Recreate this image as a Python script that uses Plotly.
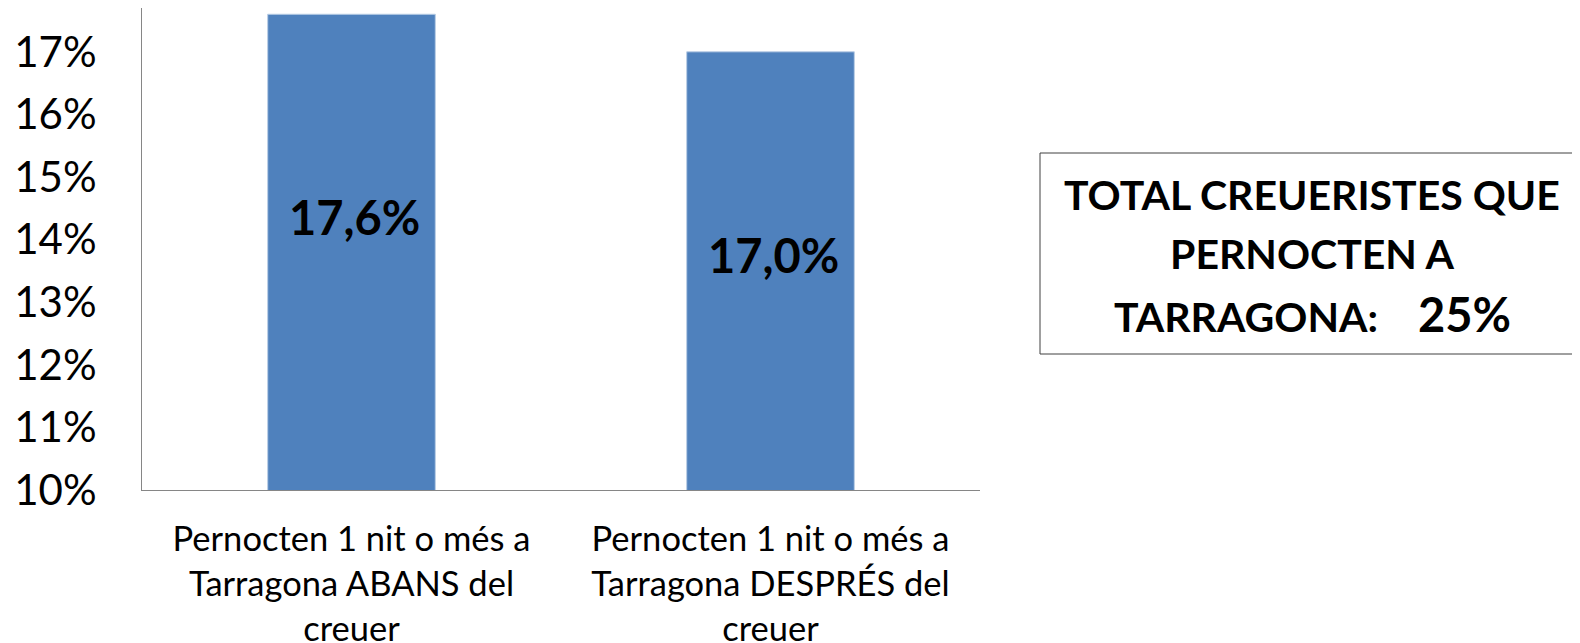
import plotly.graph_objects as go

categories = ["Pernocten 1 nit o més a<br>Tarragona ABANS del<br>creuer",
              "Pernocten 1 nit o més a<br>Tarragona DESPRÉS del<br>creuer"]
values = [17.6, 17.0]
value_labels = ["17,6%", "17,0%"]
total_label = "TOTAL CREUERISTES QUE"
total_label2 = "PERNOCTEN A"
total_label3 = "TARRAGONA:"
total_value = "25%"

FONT = "Lato"
O = 8  # default page body margin offset
W, H = 1580 - O, 643 - O
# plot area in page pixels: x 142..980, y 8..490
L, T = 142 - O, 8 - O
R = W - (980 - O)
B = H - (490 - O)
pw, ph = W - L - R, H - T - B


def px(x):
    return (x - O - L) / pw


def py(y):
    return (H - B - (y - O)) / ph


fig = go.Figure()
fig.add_trace(go.Bar(
    x=categories, y=values,
    marker=dict(color="#4F81BD", line=dict(color="#B9CDE5", width=1)),
    width=0.4, hoverinfo="skip",
))

for c, v, t in zip(categories, values, value_labels):
    fig.add_annotation(x=c, y=v - 3.24, xref="x", yref="y", text=t, showarrow=False,
                       xshift=3,
                       font=dict(family=FONT, size=47, color="black", weight="bold"))

fig.add_shape(type="rect", xref="paper", yref="paper",
              x0=px(1040), x1=px(1579), y0=py(354), y1=py(153),
              line=dict(color="#404040", width=1), fillcolor="white")
for txt, yy in [(total_label, 195), (total_label2, 253),
                (total_label3 + "&nbsp;&nbsp;&nbsp;&nbsp;<span style='font-size:47px'>" + total_value + "</span>", 314)]:
    fig.add_annotation(x=px(1312), y=py(yy), xref="paper", yref="paper", text=txt,
                       showarrow=False, xanchor="center", yanchor="middle",
                       font=dict(family=FONT, size=41, color="black", weight="bold"))

fig.update_layout(
    template="none",
    width=W, height=H, margin=dict(l=L, r=R, t=T, b=B, autoexpand=False),
    paper_bgcolor="white", plot_bgcolor="white", showlegend=False,
    font=dict(family=FONT, color="black"),
)
fig.update_yaxes(range=[10, 17.70], tick0=10, dtick=1, ticksuffix="%", automargin=False,
                 showgrid=False, zeroline=False, showline=True, linecolor="#868686",
                 linewidth=1, ticks="", tickfont=dict(family=FONT, size=42, color="black"),
                 ticklabelstandoff=36)
fig.update_xaxes(showgrid=False, showline=True, linecolor="#868686", linewidth=1, automargin=False,
                 ticks="", tickfont=dict(family=FONT, size=34.5, color="black"),
                 ticklabelstandoff=19)

fig.write_html("out.html")
